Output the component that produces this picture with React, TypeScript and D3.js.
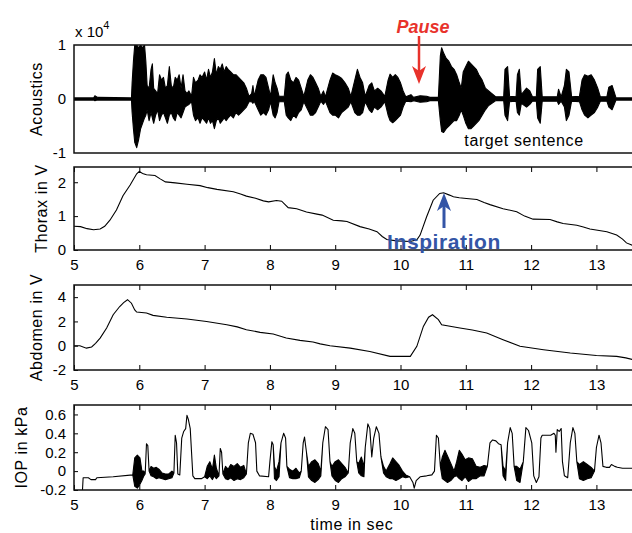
import React, { useEffect, useRef } from 'react';
import * as d3 from 'd3';

// time axis (seconds)
const timeTicks = [5, 6, 7, 8, 9, 10, 11, 12, 13];

// acoustic envelope, x 10^4: [time, upper, lower]
const acoustics: number[][] = [
  [5.0, 0.02, -0.02], [5.3, 0.02, -0.02], [5.32, 0.06, -0.03], [5.36, 0.03, -0.02], [5.88, 0.02, -0.02],
  [5.89, 0.3, -0.25], [5.91, 0.7, -0.55], [5.93, 1.0, -0.8], [5.96, 1.0, -0.9], [5.99, 0.95, -0.75],
  [6.02, 1.0, -0.55], [6.05, 0.95, -0.45], [6.08, 1.0, -0.35], [6.1, 0.7, -0.3], [6.12, 0.25, -0.2],
  [6.15, 0.2, -0.4], [6.18, 0.55, -0.25], [6.2, 0.65, -0.35], [6.22, 0.2, -0.45], [6.25, 0.15, -0.3],
  [6.28, 0.1, -0.2], [6.31, 0.45, -0.4], [6.34, 0.35, -0.3], [6.37, 0.4, -0.25], [6.4, 0.2, -0.35],
  [6.43, 0.25, -0.45], [6.46, 0.6, -0.3], [6.49, 0.25, -0.25], [6.52, 0.2, -0.35], [6.55, 0.4, -0.4],
  [6.58, 0.35, -0.25], [6.61, 0.45, -0.3], [6.64, 0.2, -0.35], [6.67, 0.45, -0.25], [6.7, 0.15, -0.15],
  [6.73, 0.1, -0.12], [6.76, 0.15, -0.1], [6.8, 0.05, -0.05], [6.83, 0.4, -0.3], [6.86, 0.3, -0.4],
  [6.9, 0.35, -0.35], [6.93, 0.45, -0.45], [6.96, 0.4, -0.35], [7.0, 0.5, -0.4], [7.03, 0.35, -0.45],
  [7.06, 0.55, -0.35], [7.09, 0.4, -0.45], [7.12, 0.5, -0.4], [7.15, 0.75, -0.55], [7.18, 0.45, -0.4],
  [7.21, 0.6, -0.35], [7.24, 0.55, -0.45], [7.27, 0.65, -0.4], [7.3, 0.5, -0.35], [7.33, 0.6, -0.4],
  [7.36, 0.55, -0.35], [7.4, 0.5, -0.3], [7.44, 0.45, -0.35], [7.48, 0.45, -0.25], [7.52, 0.4, -0.3],
  [7.56, 0.35, -0.25], [7.6, 0.3, -0.2], [7.64, 0.2, -0.15], [7.68, 0.05, -0.05], [7.72, 0.1, -0.05],
  [7.74, 0.25, -0.08], [7.76, 0.05, -0.04], [7.82, 0.35, -0.2], [7.86, 0.45, -0.3], [7.9, 0.45, -0.25],
  [7.94, 0.4, -0.3], [7.98, 0.2, -0.2], [8.01, 0.05, -0.05], [8.05, 0.45, -0.3], [8.08, 0.3, -0.35],
  [8.11, 0.2, -0.25], [8.14, 0.05, -0.05], [8.22, 0.05, -0.05], [8.25, 0.45, -0.3], [8.28, 0.5, -0.35],
  [8.32, 0.35, -0.4], [8.36, 0.3, -0.3], [8.4, 0.4, -0.35], [8.44, 0.35, -0.25], [8.48, 0.2, -0.2],
  [8.52, 0.05, -0.05], [8.58, 0.35, -0.2], [8.62, 0.45, -0.3], [8.66, 0.4, -0.3], [8.7, 0.3, -0.25],
  [8.74, 0.2, -0.15], [8.78, 0.05, -0.04], [8.82, 0.15, -0.1], [8.85, 0.04, -0.04], [8.92, 0.35, -0.25],
  [8.96, 0.48, -0.3], [9.0, 0.45, -0.3], [9.05, 0.42, -0.35], [9.1, 0.38, -0.25], [9.15, 0.3, -0.2],
  [9.2, 0.2, -0.15], [9.24, 0.05, -0.05], [9.3, 0.35, -0.25], [9.34, 0.55, -0.3], [9.38, 0.4, -0.3],
  [9.42, 0.3, -0.25], [9.46, 0.05, -0.05], [9.52, 0.25, -0.2], [9.56, 0.3, -0.25], [9.6, 0.15, -0.15],
  [9.65, 0.2, -0.2], [9.7, 0.15, -0.15], [9.76, 0.05, -0.05], [9.81, 0.35, -0.3], [9.84, 0.46, -0.4],
  [9.88, 0.4, -0.44], [9.92, 0.45, -0.4], [9.96, 0.4, -0.35], [10.0, 0.3, -0.3], [10.04, 0.15, -0.15],
  [10.08, 0.04, -0.04], [10.16, 0.08, -0.05], [10.2, 0.03, -0.03], [10.3, 0.06, -0.06], [10.4, 0.05, -0.05],
  [10.45, 0.03, -0.03], [10.58, 0.03, -0.03], [10.61, 0.8, -0.4], [10.63, 0.95, -0.6], [10.66, 0.85, -0.62],
  [10.7, 0.75, -0.55], [10.74, 0.7, -0.5], [10.78, 0.6, -0.45], [10.82, 0.55, -0.4], [10.86, 0.45, -0.4],
  [10.9, 0.3, -0.3], [10.93, 0.2, -0.2], [10.96, 0.5, -0.3], [11.0, 0.6, -0.45], [11.04, 0.7, -0.55],
  [11.08, 0.65, -0.55], [11.12, 0.6, -0.5], [11.16, 0.55, -0.45], [11.2, 0.45, -0.4], [11.25, 0.35, -0.3],
  [11.3, 0.2, -0.2], [11.35, 0.15, -0.12], [11.4, 0.1, -0.08], [11.46, 0.04, -0.03], [11.58, 0.04, -0.03],
  [11.6, 0.55, -0.3], [11.64, 0.6, -0.4], [11.67, 0.05, -0.05], [11.77, 0.04, -0.04], [11.79, 0.45, -0.25],
  [11.82, 0.55, -0.3], [11.85, 0.08, -0.08], [11.93, 0.2, -0.15], [11.98, 0.15, -0.1], [12.02, 0.04, -0.04],
  [12.08, 0.04, -0.04], [12.1, 0.55, -0.35], [12.14, 0.6, -0.45], [12.17, 0.04, -0.04], [12.4, 0.04, -0.04],
  [12.42, 0.18, -0.1], [12.46, 0.04, -0.04], [12.51, 0.25, -0.15], [12.54, 0.55, -0.4], [12.58, 0.5, -0.3],
  [12.62, 0.04, -0.04], [12.74, 0.05, -0.05], [12.78, 0.35, -0.2], [12.82, 0.45, -0.3], [12.87, 0.42, -0.35],
  [12.92, 0.45, -0.3], [12.97, 0.35, -0.25], [13.02, 0.2, -0.15], [13.06, 0.04, -0.04], [13.16, 0.04, -0.04],
  [13.19, 0.22, -0.15], [13.24, 0.25, -0.2], [13.28, 0.1, -0.08], [13.3, 0.02, -0.02], [13.6, 0.02, -0.02],
];

// thorax belt, volts: [time, value]
const thorax: number[][] = [
  [5.0, 0.7], [5.1, 0.69], [5.2, 0.63], [5.3, 0.6], [5.4, 0.62], [5.47, 0.7], [5.55, 0.88], [5.65, 1.18],
  [5.75, 1.6], [5.86, 1.92], [5.96, 2.25], [6.0, 2.32], [6.05, 2.26], [6.11, 2.22], [6.24, 2.2], [6.32, 2.1],
  [6.4, 2.01], [6.55, 1.98], [6.73, 1.94], [6.93, 1.9], [7.05, 1.84], [7.19, 1.79], [7.44, 1.72], [7.55, 1.65],
  [7.64, 1.59], [7.78, 1.53], [7.9, 1.45], [7.98, 1.42], [8.1, 1.46], [8.18, 1.44], [8.28, 1.25], [8.41, 1.22],
  [8.56, 1.12], [8.72, 1.06], [8.8, 1.03], [8.97, 0.88], [9.1, 0.86], [9.18, 0.84], [9.38, 0.69], [9.52, 0.62],
  [9.64, 0.54], [9.72, 0.4], [9.79, 0.31], [9.94, 0.27], [10.15, 0.25], [10.25, 0.3], [10.3, 0.44], [10.4, 0.98],
  [10.5, 1.47], [10.6, 1.67], [10.66, 1.69], [10.75, 1.62], [10.81, 1.57], [10.9, 1.54], [11.01, 1.52],
  [11.17, 1.49], [11.28, 1.4], [11.37, 1.34], [11.57, 1.22], [11.78, 1.13], [11.9, 1.0], [12.03, 0.91],
  [12.29, 0.9], [12.4, 0.83], [12.49, 0.78], [12.7, 0.73], [12.8, 0.68], [12.9, 0.62], [13.16, 0.54],
  [13.31, 0.44], [13.4, 0.32], [13.46, 0.21], [13.55, 0.14], [13.6, 0.12],
];

// abdomen belt, volts: [time, value]
const abdomen: number[][] = [
  [5.0, 0.0], [5.09, 0.0], [5.19, -0.2], [5.27, -0.1], [5.33, 0.2], [5.4, 0.63], [5.5, 1.46], [5.6, 2.55],
  [5.7, 3.23], [5.76, 3.55], [5.82, 3.79], [5.88, 3.5], [5.93, 2.95], [5.96, 2.77], [6.11, 2.7], [6.21, 2.5],
  [6.42, 2.35], [6.73, 2.2], [7.03, 2.0], [7.34, 1.73], [7.5, 1.55], [7.64, 1.32], [7.85, 1.1], [8.05, 0.96],
  [8.25, 0.63], [8.46, 0.44], [8.66, 0.3], [8.77, 0.15], [8.92, 0.0], [9.23, -0.2], [9.53, -0.47],
  [9.84, -0.88], [10.15, -0.88], [10.25, -0.05], [10.35, 1.59], [10.43, 2.35], [10.49, 2.55], [10.58, 2.15],
  [10.63, 1.73], [10.91, 1.46], [11.1, 1.3], [11.32, 1.04], [11.57, 0.5], [11.83, -0.05], [12.19, -0.33],
  [12.6, -0.6], [13.0, -0.8], [13.31, -0.88], [13.45, -1.0], [13.6, -1.2],
];

// intraoral pressure, kPa: [time, high, low] (low omitted = single trace)
const iop: number[][] = [
  [5.13, -0.2], [5.14, -0.07], [5.22, -0.07], [5.26, -0.09], [5.33, -0.09], [5.35, -0.07], [5.6, -0.06],
  [5.9, -0.04], [5.93, 0.14, -0.16], [5.97, 0.17, -0.18], [6.01, 0.14, -0.14], [6.04, 0.0, -0.1],
  [6.07, 0.0, -0.05], [6.09, -0.03], [6.11, 0.29], [6.13, 0.27], [6.15, 0.0], [6.18, 0.05, -0.05],
  [6.22, 0.03, -0.06], [6.26, 0.04, -0.08], [6.3, 0.02, -0.07], [6.35, -0.02, -0.08], [6.4, -0.03, -0.09],
  [6.45, -0.03, -0.08], [6.5, 0.0, -0.07], [6.53, -0.02], [6.55, 0.38], [6.57, 0.3], [6.59, -0.03],
  [6.62, -0.04], [6.65, 0.35], [6.68, 0.42], [6.71, 0.45], [6.73, 0.59], [6.75, 0.55], [6.78, 0.45],
  [6.8, 0.2], [6.82, -0.05], [6.85, -0.08], [6.95, -0.08], [7.0, -0.06], [7.04, 0.05, -0.08],
  [7.08, 0.1, -0.05], [7.12, 0.02, -0.09], [7.15, 0.17, -0.05], [7.18, 0.03, -0.08], [7.22, -0.05],
  [7.24, 0.24], [7.26, 0.2], [7.28, -0.03], [7.32, 0.05, -0.08], [7.36, 0.02, -0.09], [7.4, 0.07, -0.07],
  [7.45, 0.05, -0.1], [7.5, 0.08, -0.08], [7.55, 0.04, -0.09], [7.6, 0.06, -0.07], [7.64, -0.03],
  [7.67, 0.3], [7.7, 0.4], [7.74, 0.39], [7.78, 0.3], [7.8, 0.0], [7.84, -0.05], [7.98, -0.06],
  [8.0, 0.1], [8.03, 0.31], [8.05, 0.28], [8.07, 0.05, -0.08], [8.1, 0.0, -0.1], [8.14, 0.1, -0.06],
  [8.17, 0.3], [8.21, 0.4], [8.24, 0.35], [8.26, 0.05], [8.3, 0.02, -0.07], [8.35, 0.0, -0.08],
  [8.4, 0.03, -0.08], [8.45, -0.02, -0.07], [8.48, 0.0], [8.51, 0.3], [8.53, 0.36], [8.56, 0.2],
  [8.59, 0.05, -0.06], [8.64, 0.1, -0.1], [8.69, 0.12, -0.12], [8.74, 0.08, -0.09], [8.78, 0.0, -0.05],
  [8.81, 0.3], [8.85, 0.47], [8.89, 0.44], [8.92, 0.1], [8.95, 0.05, -0.05], [9.0, 0.1, -0.1],
  [9.05, 0.12, -0.12], [9.1, 0.08, -0.08], [9.15, 0.04, -0.06], [9.2, -0.02], [9.23, 0.3], [9.27, 0.45],
  [9.3, 0.4], [9.33, 0.1], [9.36, 0.08, -0.02], [9.4, 0.15, -0.05], [9.44, 0.05, -0.06], [9.46, 0.25],
  [9.5, 0.5], [9.53, 0.45], [9.56, 0.15], [9.59, 0.35], [9.63, 0.47], [9.67, 0.4], [9.7, 0.15],
  [9.74, 0.05, -0.02], [9.78, 0.0, -0.06], [9.84, 0.08, -0.08], [9.88, 0.14, -0.08], [9.93, 0.1, -0.1],
  [9.98, 0.06, -0.08], [10.03, 0.0, -0.06], [10.08, -0.04, -0.07], [10.14, -0.06], [10.19, -0.12],
  [10.21, -0.18], [10.24, -0.1], [10.3, -0.06], [10.4, -0.05], [10.48, -0.04], [10.52, 0.0], [10.55, 0.38],
  [10.58, 0.35], [10.61, 0.05], [10.64, 0.15, -0.08], [10.68, 0.22, -0.1], [10.72, 0.16, -0.12],
  [10.77, 0.08, -0.1], [10.82, 0.0, -0.06], [10.86, 0.1, -0.05], [10.9, 0.22, -0.08], [10.94, 0.18, -0.1],
  [10.99, 0.12, -0.06], [11.04, 0.14, -0.11], [11.1, 0.13, -0.08], [11.16, 0.05, -0.08], [11.22, 0.04, -0.05],
  [11.28, 0.06, -0.05], [11.33, 0.05], [11.37, 0.3], [11.41, 0.33], [11.46, 0.32], [11.5, 0.29], [11.54, 0.28],
  [11.57, 0.05, -0.05], [11.61, 0.0, -0.1], [11.64, 0.3], [11.68, 0.46], [11.71, 0.4], [11.74, 0.05],
  [11.78, 0.05, -0.1], [11.83, 0.02, -0.12], [11.88, 0.1], [11.92, 0.46], [11.96, 0.43], [12.01, 0.3],
  [12.04, -0.05], [12.08, -0.12], [12.12, -0.06], [12.15, 0.35], [12.17, 0.38], [12.25, 0.38], [12.3, 0.38],
  [12.35, 0.4], [12.37, 0.38], [12.38, 0.2], [12.4, 0.44], [12.43, 0.42], [12.46, 0.45], [12.48, 0.1],
  [12.51, -0.05], [12.56, -0.07], [12.6, 0.3], [12.64, 0.46], [12.67, 0.4], [12.7, 0.1], [12.74, 0.07, -0.08],
  [12.8, 0.1, -0.1], [12.86, 0.07, -0.08], [12.92, 0.04, -0.07], [12.97, 0.0], [13.0, 0.25], [13.04, 0.38],
  [13.07, 0.3], [13.1, 0.05], [13.15, 0.04], [13.2, 0.04], [13.23, 0.07], [13.28, 0.05], [13.32, 0.04],
  [13.4, 0.03], [13.6, 0.03],
];

const acTicks = [-1, 0, 1];
const thoraxTicks = [0, 1, 2];
const abdomenTicks = [-2, 0, 2, 4];
const iopTicks = [-0.2, 0, 0.2, 0.4, 0.6];

const W = 632;
const H = 533;
const FONT = '"Liberation Sans", Arial, sans-serif';

const App = () => {
  const svgRef = useRef<SVGSVGElement>(null);

  useEffect(() => {
    const svg = d3.select(svgRef.current);
    svg.selectAll('*').remove();

    const x = d3.scaleLinear().domain([5, 13.6]).range([74, 635.6]);

    const panels = [
      { id: 'ac', top: 45, bottom: 153, domain: [-1, 1], ticks: acTicks, data: acoustics, kind: 'band', xTicks: false, label: 'Acoustics', labelX: 42 },
      { id: 'th', top: 167, bottom: 250, domain: [0, 2.45], ticks: thoraxTicks, data: thorax, kind: 'line', xTicks: true, label: 'Thorax in V', labelX: 47 },
      { id: 'ab', top: 285, bottom: 370, domain: [-2, 5], ticks: abdomenTicks, data: abdomen, kind: 'line', xTicks: true, label: 'Abdomen in V', labelX: 42 },
      { id: 'iop', top: 405, bottom: 490, domain: [-0.2, 0.7], ticks: iopTicks, data: iop, kind: 'band', xTicks: true, label: 'IOP in kPa', labelX: 27 },
    ];

    panels.forEach(p => {
      const y = d3.scaleLinear().domain(p.domain).range([p.bottom, p.top]);
      const g = svg.append('g');

      g.append('clipPath')
        .attr('id', `clip-${p.id}`)
        .append('rect')
        .attr('x', x(5))
        .attr('y', p.top)
        .attr('width', x(13.6) - x(5))
        .attr('height', p.bottom - p.top);

      const plot = g.append('g').attr('clip-path', `url(#clip-${p.id})`);

      if (p.kind === 'band') {
        const area = d3.area<number[]>()
          .x(d => x(d[0]))
          .y0(d => y(d.length > 2 ? d[2] : d[1]))
          .y1(d => y(d[1]));
        plot.append('path')
          .datum(p.data)
          .attr('d', area)
          .attr('fill', '#000')
          .attr('stroke', '#000')
          .attr('stroke-width', 1.1)
          .attr('stroke-linejoin', 'round');
      } else {
        const line = d3.line<number[]>()
          .x(d => x(d[0]))
          .y(d => y(d[1]));
        plot.append('path')
          .datum(p.data)
          .attr('d', line)
          .attr('fill', 'none')
          .attr('stroke', '#000')
          .attr('stroke-width', 1.1);
      }

      // y axis
      const yAxis = g.append('g')
        .attr('transform', `translate(${x(5)},0)`)
        .call(d3.axisLeft(y)
          .tickValues(p.ticks)
          .tickSizeInner(p.xTicks ? -4 : 0)
          .tickSizeOuter(0)
          .tickPadding(8)
          .tickFormat(d => String(+(+d).toFixed(1))));
      yAxis.select('.domain').remove();
      yAxis.selectAll('text')
        .attr('font-family', FONT)
        .attr('font-size', 15)
        .attr('fill', '#000');

      if (p.xTicks) {
        const bottomAxis = g.append('g')
          .attr('transform', `translate(0,${p.bottom})`)
          .call(d3.axisBottom(x)
            .tickValues(timeTicks)
            .tickSizeInner(-5)
            .tickSizeOuter(0)
            .tickPadding(9)
            .tickFormat(d3.format('d')));
        bottomAxis.select('.domain').remove();
        bottomAxis.selectAll('text')
          .attr('font-family', FONT)
          .attr('font-size', 15)
          .attr('fill', '#000');

        const topAxis = g.append('g')
          .attr('transform', `translate(0,${p.top})`)
          .call(d3.axisTop(x)
            .tickValues(timeTicks)
            .tickSizeInner(-5)
            .tickSizeOuter(0)
            .tickFormat(() => ''));
        topAxis.select('.domain').remove();
      }

      // box
      g.append('rect')
        .attr('x', x(5))
        .attr('y', p.top)
        .attr('width', x(13.6) - x(5))
        .attr('height', p.bottom - p.top)
        .attr('fill', 'none')
        .attr('stroke', '#111')
        .attr('stroke-width', 1.5);

      g.append('text')
        .attr('transform', `translate(${p.labelX},${(p.top + p.bottom) / 2}) rotate(-90)`)
        .attr('text-anchor', 'middle')
        .attr('font-family', FONT)
        .attr('font-size', 16)
        .attr('letter-spacing', 0.6)
        .text(p.label);
    });

    // exponent label
    const expo = svg.append('text')
      .attr('x', 75)
      .attr('y', 37)
      .attr('font-family', FONT)
      .attr('font-size', 15);
    expo.append('tspan').text('x 10');
    expo.append('tspan').attr('dy', -8).attr('font-size', 11).text('4');

    svg.append('text')
      .attr('x', 524)
      .attr('y', 146)
      .attr('text-anchor', 'middle')
      .attr('font-family', FONT)
      .attr('font-size', 16)
      .attr('letter-spacing', 0.6)
      .text('target sentence');

    svg.append('text')
      .attr('x', x(13.6) / 2 + 37 - 3)
      .attr('y', 530)
      .attr('text-anchor', 'middle')
      .attr('font-family', FONT)
      .attr('font-size', 16)
      .attr('letter-spacing', 0.6)
      .text('time in sec');

    // Pause annotation
    const red = '#e8322b';
    svg.append('text')
      .attr('x', 423)
      .attr('y', 33)
      .attr('text-anchor', 'middle')
      .attr('font-family', FONT)
      .attr('font-size', 18)
      .attr('font-weight', 'bold')
      .attr('font-style', 'italic')
      .attr('fill', red)
      .text('Pause');
    svg.append('line')
      .attr('x1', 419).attr('y1', 36).attr('x2', 419).attr('y2', 72)
      .attr('stroke', red).attr('stroke-width', 2.5);
    svg.append('path')
      .attr('d', 'M412,66 L419,84 L426,66 L419,71 Z')
      .attr('fill', red);

    // Inspiration annotation
    const blue = '#3455a6';
    svg.append('line')
      .attr('x1', 444).attr('y1', 228).attr('x2', 444).attr('y2', 204)
      .attr('stroke', blue).attr('stroke-width', 3);
    svg.append('path')
      .attr('d', 'M437,211 L444,193 L451,211 L444,206 Z')
      .attr('fill', blue);
    svg.append('text')
      .attr('x', 444)
      .attr('y', 249)
      .attr('text-anchor', 'middle')
      .attr('font-family', FONT)
      .attr('font-size', 21)
      .attr('font-weight', 'bold')
      .attr('letter-spacing', 0.6)
      .attr('fill', blue)
      .text('Inspiration');
  }, []);

  return (
    <svg
      ref={svgRef}
      width={W}
      height={H}
      style={{ position: 'absolute', left: 0, top: 0, background: '#fff' }}
    />
  );
};

export default App;
